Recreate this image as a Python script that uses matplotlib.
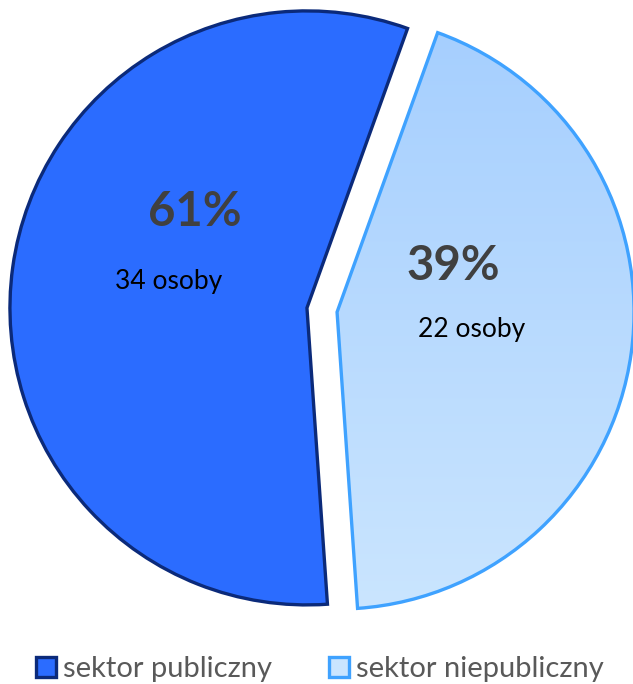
import matplotlib
matplotlib.use("Agg")
import matplotlib.pyplot as plt
import numpy as np
from matplotlib.patches import Patch
from matplotlib.colors import LinearSegmentedColormap

# ---- data ----
categories = ["sektor publiczny", "sektor niepubliczny"]
counts = [34, 22]
slice_shares = [56.6, 43.4]          # angular shares as drawn in the picture
count_word = "osoby"

total = sum(counts)
pct_labels = [f"{round(100 * c / total)}%" for c in counts]
count_labels = [f"{c} {count_word}" for c in counts]

# ---- style ----
W, H = 633, 684
fills = ["#2B6CFF", "#BADBFF"]
edges = ["#0B2A7A", "#3FA2FF"]
grad_colors = ["#A6CFFE", "#CAE5FF"]
plt.rcParams['font.family'] = ['Lato', 'DejaVu Sans']

fig = plt.figure(figsize=(W / 100, H / 100), dpi=100)
ax = fig.add_axes([0, 0, 1, 1])

wedges, _ = ax.pie(slice_shares, startangle=70.2, counterclock=True,
                   center=(322, H - 310), radius=297,
                   explode=[15.2, 15.2], colors=fills,
                   wedgeprops=dict(linewidth=2.4, joinstyle='miter'))
for w, e in zip(wedges, edges):
    w.set_edgecolor(e)
    w.set_zorder(2)

# gradient fill for second slice
w = wedges[1]
ext = w.get_path().get_extents()
grad = np.linspace(0, 1, 256)[:, None]
cmap = LinearSegmentedColormap.from_list('g', grad_colors)
im = ax.imshow(grad, cmap=cmap, extent=(ext.x0, ext.x1, ext.y0, ext.y1),
               origin='upper', aspect='auto', zorder=1)
im.set_clip_path(w)
w.set_facecolor('none')

ax.set_xlim(0, W)
ax.set_ylim(0, H)
ax.set_aspect('equal')
ax.axis('off')

# labels
pct_pos = [(195, 212), (453, 266)]
cnt_pos = [(169, 282), (472, 330)]
for p, c, pp, cp in zip(pct_labels, count_labels, pct_pos, cnt_pos):
    fig.text(pp[0] / W, 1 - pp[1] / H, p, ha='center', va='center',
             fontsize=34, fontweight='bold', color='#404040')
    fig.text(cp[0] / W, 1 - cp[1] / H, c, ha='center', va='center',
             fontsize=19, color='#000000')

handles = [Patch(facecolor=fills[0], edgecolor=edges[0], linewidth=2.4),
           Patch(facecolor=grad_colors[1], edgecolor=edges[1], linewidth=2.4)]
fig.legend(handles, categories, loc='center', bbox_to_anchor=(320 / W, 1 - 669 / H),
           ncol=2, frameon=False, fontsize=21, labelcolor='#595959',
           handlelength=0.68, handleheight=0.68, handletextpad=0.25,
           columnspacing=1.95, borderpad=0, borderaxespad=0)

fig.savefig("out.png", dpi=100)
